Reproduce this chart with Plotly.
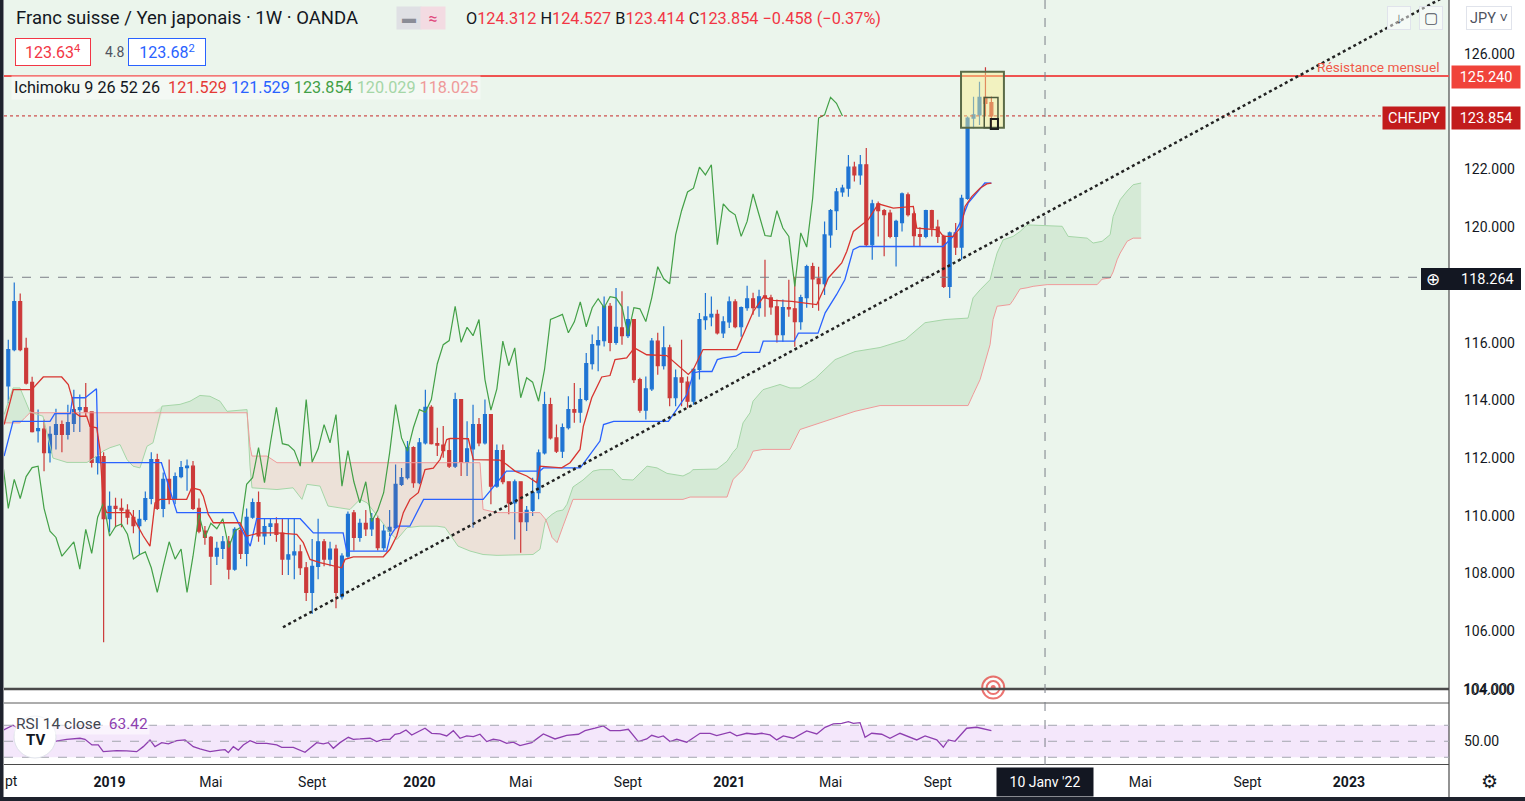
import numpy as np
import pandas as pd
import plotly.graph_objects as go

FONT = "Roboto, 'Open Sans', sans-serif"
INK = "#131722"
BLUE = "#1f74d3"
RED = "#cc3a3a"
TENKAN_C = "#d8342f"
KIJUN_C = "#2962ff"
CHIKOU_C = "#43a047"
SPAN_A_C = "#a5d6a7"
SPAN_B_C = "#ef9a9a"
PANE_BG = "#ebf5ec"

# weekly bars, first bar = week of 10 Sept 2018
START = pd.Timestamp("2018-09-10")

OPEN = [114.50, 115.76, 117.42, 115.80, 114.62, 112.95, 113.00, 112.19, 112.82, 113.16,
        112.82, 113.20, 113.68, 113.75, 113.60, 111.85, 112.05, 109.90, 110.33, 110.26,
        110.20, 109.95, 109.66, 109.88, 110.60, 111.95, 110.26, 111.26, 110.60, 111.36,
        111.67, 111.72, 110.26, 109.47, 109.25, 108.60, 108.87, 109.10, 108.15, 109.50,
        108.70, 109.95, 110.46, 109.30, 109.63, 109.72, 109.40, 108.50, 108.65, 108.75,
        108.20, 107.35, 108.25, 109.10, 108.50, 108.85, 107.20, 108.60, 110.10, 109.25,
        109.74, 109.55, 109.90, 108.90, 109.47, 109.59, 111.09, 111.32, 112.36, 111.15,
        112.53, 113.76, 112.50, 112.45, 112.26, 111.72, 114.03, 111.86, 112.32, 113.16,
        112.53, 113.51, 111.03, 112.26, 111.18, 110.45, 111.18, 109.80, 110.19, 110.80,
        112.18, 113.85, 112.70, 112.24, 113.05, 113.68, 113.59, 114.03, 115.27, 115.92,
        116.07, 117.26, 116.01, 116.51, 116.24, 116.80, 114.72, 113.66, 114.40, 116.05,
        115.20, 115.82, 114.09, 114.78, 114.63, 113.97, 115.07, 116.80, 116.89, 116.98,
        116.34, 116.72, 117.41, 116.55, 117.21, 117.52, 117.21, 117.62, 117.55, 117.24,
        116.28, 117.21, 117.17, 116.73, 117.56, 118.63, 118.21, 118.04, 119.73, 120.57,
        121.22, 121.35, 122.08, 121.81, 122.16, 119.39, 120.81, 120.57, 120.49, 119.68,
        120.16, 121.12, 120.46, 119.74, 119.68, 120.57, 120.00, 119.68, 117.95, 119.80,
        119.31, 121.00, 123.78, 123.89, 124.50, 124.312]
HIGH = [116.10, 118.08, 117.70, 116.17, 114.82, 113.68, 113.34, 113.10, 113.71, 113.30,
        113.85, 114.37, 114.20, 114.60, 113.62, 112.75, 112.20, 110.84, 110.63, 110.60,
        110.40, 110.20, 110.20, 110.84, 112.20, 112.15, 111.50, 111.95, 111.50, 111.90,
        111.95, 111.90, 110.60, 109.65, 109.30, 109.10, 109.30, 109.30, 109.60, 109.70,
        110.25, 110.60, 110.84, 109.90, 109.90, 109.95, 109.90, 109.90, 109.90, 109.00,
        108.40, 109.20, 109.90, 109.20, 109.10, 109.00, 108.70, 110.15, 110.20, 109.90,
        110.20, 110.10, 110.00, 109.70, 110.20, 111.78, 111.66, 112.59, 112.41, 112.70,
        114.37, 113.83, 113.05, 113.11, 112.70, 114.26, 114.05, 113.28, 113.85, 113.39,
        114.03, 113.53, 112.47, 112.47, 111.20, 111.26, 111.20, 110.34, 111.32, 112.30,
        114.30, 114.09, 113.16, 113.20, 114.14, 114.60, 114.43, 115.64, 116.28, 116.57,
        117.60, 117.37, 117.89, 117.78, 117.26, 116.82, 114.78, 114.83, 116.16, 116.34,
        116.57, 115.93, 115.07, 116.10, 114.83, 115.12, 117.03, 117.72, 117.60, 117.14,
        116.91, 117.60, 117.50, 117.25, 117.97, 117.73, 117.83, 118.87, 117.66, 117.49,
        117.49, 118.18, 118.28, 117.66, 118.70, 118.77, 118.63, 120.20, 120.63, 121.36,
        121.47, 122.50, 122.27, 122.50, 122.74, 120.95, 120.89, 120.63, 120.60, 120.26,
        121.20, 121.20, 120.54, 120.00, 120.60, 120.60, 120.26, 119.74, 119.85, 120.14,
        121.12, 123.83, 124.52, 125.04, 125.54, 124.527]
LOW = [113.90, 115.70, 115.70, 114.55, 112.89, 112.54, 111.54, 111.85, 112.30, 112.20,
       112.64, 112.90, 112.90, 113.46, 111.67, 111.43, 105.62, 109.43, 109.60, 109.60,
       109.70, 109.40, 108.65, 109.80, 110.40, 110.20, 109.95, 110.40, 110.40, 111.30,
       110.87, 110.20, 109.40, 109.00, 107.60, 108.30, 108.50, 107.80, 108.10, 108.50,
       108.25, 109.90, 109.10, 109.00, 109.30, 109.10, 107.95, 107.95, 107.80, 107.95,
       107.05, 106.60, 107.80, 108.25, 108.25, 106.80, 107.10, 108.55, 108.80, 109.10,
       109.30, 109.30, 108.80, 108.80, 109.30, 109.55, 111.03, 111.26, 110.97, 111.09,
       112.47, 112.47, 112.07, 112.01, 111.66, 111.66, 111.38, 111.38, 109.59, 112.41,
       112.47, 110.40, 110.97, 111.09, 110.05, 109.18, 108.72, 109.47, 109.99, 110.57,
       112.12, 112.64, 112.18, 112.00, 112.99, 113.22, 113.22, 113.97, 115.07, 115.01,
       115.87, 115.70, 115.93, 115.93, 116.16, 114.60, 113.57, 113.34, 114.32, 114.89,
       115.07, 113.80, 113.80, 113.80, 113.74, 113.85, 114.72, 116.45, 116.57, 116.28,
       116.16, 116.51, 116.50, 116.20, 117.10, 116.97, 116.90, 116.90, 116.97, 116.00,
       116.03, 116.90, 115.86, 116.45, 117.21, 117.20, 117.10, 117.65, 119.29, 119.90,
       121.05, 121.05, 121.58, 121.47, 119.33, 118.87, 119.68, 118.99, 119.62, 118.64,
       119.85, 120.37, 119.33, 119.33, 119.62, 119.68, 119.45, 117.89, 117.55, 119.04,
       118.87, 120.95, 123.43, 123.54, 123.83, 123.414]
CLOSE = [115.76, 117.42, 115.76, 114.60, 112.92, 113.02, 112.19, 112.82, 113.16, 112.82,
         113.23, 113.68, 113.75, 113.60, 111.85, 112.05, 109.90, 110.33, 110.26, 110.20,
         109.95, 109.66, 109.88, 110.60, 111.95, 110.26, 111.26, 110.60, 111.36, 111.67,
         111.72, 110.26, 109.47, 109.25, 108.60, 108.87, 109.10, 108.15, 109.53, 108.70,
         109.95, 110.46, 109.30, 109.63, 109.72, 109.36, 108.50, 108.65, 108.75, 108.20,
         107.35, 108.25, 109.10, 108.50, 108.85, 107.35, 108.60, 110.05, 109.25, 109.74,
         109.55, 109.90, 108.90, 109.47, 109.60, 111.09, 111.32, 112.36, 111.15, 112.53,
         113.76, 112.50, 112.45, 112.26, 111.72, 114.03, 111.86, 112.32, 113.16, 112.53,
         113.51, 111.03, 112.26, 111.18, 110.45, 111.18, 109.80, 110.19, 110.80, 112.18,
         113.85, 112.70, 112.24, 113.06, 113.68, 113.59, 114.03, 115.27, 115.93, 116.07,
         117.26, 116.01, 116.53, 116.24, 116.80, 114.72, 113.66, 114.40, 116.05, 115.20,
         115.82, 114.09, 114.78, 114.63, 113.97, 115.07, 116.80, 116.89, 116.98, 116.34,
         116.72, 117.41, 116.55, 117.21, 117.52, 117.21, 117.59, 117.55, 117.24, 116.28,
         117.21, 117.17, 116.73, 117.56, 118.63, 118.21, 118.04, 119.73, 120.57, 121.22,
         121.35, 122.08, 121.81, 122.16, 119.39, 120.81, 120.57, 120.43, 119.68, 120.20,
         121.15, 120.43, 119.71, 119.68, 120.57, 119.97, 119.68, 117.95, 119.80, 119.31,
         121.00, 123.78, 123.89, 124.50, 124.29, 123.854]

# Ichimoku 9 26 52 26, breakpoints (x in weeks from START)
TENKAN_IDX = [-0.7, 0.84, 3.93, 4.77, 5.87, 8.96, 10.07, 10.64, 11.19, 12.03,
              13.16, 13.71, 14.84, 15.39, 15.94, 16.52, 20.43, 20.98, 22.66, 23.78,
              24.62, 25.46, 29.94, 30.78, 32.17, 32.73, 33.57, 34.41, 38.89, 40.01,
              42.25, 45.05, 48.41, 49.51, 50.64, 52.32, 54.55, 55.96, 56.51, 57.91,
              62.94, 64.06, 65.19, 66.3, 67.42, 68.82, 69.94, 71.33, 72.46, 73.58,
              74.14, 77.21, 78.05, 82.53, 83.65, 85.04, 87.01, 88.69, 89.24, 92.88,
              94.28, 95.96, 96.51, 97.92, 99.6, 100.99, 101.83, 103.79, 105.08, 107.15,
              110.51, 112.19, 114.13, 114.97, 116.6, 122.26, 123.94, 125.04, 126.72, 128.4,
              131.49, 135.69, 137.08, 137.63, 139.88, 140.72, 141.83, 142.95, 144.34, 146.02,
              148.54, 151.9, 152.47, 156.09, 156.93, 158.56, 160.02, 160.57, 161.7, 163.09,
              164.22, 165.0]
TENKAN_VAL = [113.16, 114.37, 114.37, 114.55, 114.81, 114.81, 114.55, 114.14, 113.57, 113.45,
              113.45, 113.10, 113.05, 112.30, 110.45, 110.11, 110.11, 109.93, 109.30, 108.95,
              110.45, 110.57, 110.57, 110.97, 110.90, 110.68, 110.05, 109.76, 109.76, 109.30,
              109.41, 109.41, 109.36, 109.07, 108.49, 108.38, 108.26, 108.20, 108.49, 108.58,
              108.58, 108.84, 109.30, 110.11, 110.57, 110.80, 111.60, 111.65, 111.95, 112.64,
              112.68, 112.67, 111.95, 111.93, 111.78, 111.55, 111.38, 111.15, 111.72, 111.66,
              111.84, 112.30, 113.10, 114.09, 114.81, 114.86, 115.41, 115.47, 115.82, 115.58,
              115.55, 115.24, 114.90, 115.07, 115.76, 115.76, 116.56, 117.08, 117.58, 117.46,
              117.43, 117.32, 117.95, 118.24, 118.76, 119.16, 119.85, 120.03, 120.26, 120.81,
              120.66, 120.72, 119.97, 119.91, 119.68, 119.68, 120.03, 120.72, 121.06, 121.35,
              121.50, 121.529]

KIJUN_IDX = [-0.7, 0.8, 7.0, 7.8, 10.4, 10.8, 12.9, 14.8, 15.1, 25.7,
             28.3, 37.8, 38.9, 40.6, 41.7, 49.0, 51.2, 56.2, 56.8, 63.5,
             64.1, 65.2, 67.4, 69.7, 79.7, 83.6, 89.2, 89.8, 96.0, 99.3,
             99.9, 101.6, 110.8, 112.2, 113.9, 115.0, 116.1, 118.1, 119.0, 120.0,
             122.1, 123.2, 126.1, 126.7, 131.9, 132.6, 135.9, 137.1, 139.0, 140.4,
             141.8, 142.9, 156.9, 158.6, 160.0, 161.1, 163.1, 163.9, 165.0]
KIJUN_VAL = [112.07, 113.27, 113.27, 113.54, 113.54, 114.09, 114.09, 114.40, 111.84, 111.84,
             110.11, 110.11, 109.63, 108.95, 109.90, 109.90, 109.41, 109.41, 108.78, 108.78,
             109.30, 109.64, 109.64, 110.57, 110.57, 111.55, 111.55, 111.66, 111.66, 112.59,
             113.16, 113.27, 113.27, 113.68, 114.20, 114.95, 115.00, 115.00, 115.41, 115.47,
             115.53, 115.66, 115.66, 116.05, 116.05, 116.33, 116.33, 117.03, 117.66, 118.18,
             119.22, 119.33, 119.33, 119.68, 120.26, 120.83, 121.35, 121.53, 121.529]

CLOUD_IDX = [-0.72, 0.79, 1.96, 2.80, 3.64, 5.82, 7.50, 9.85, 13.21, 14.89,
             15.89, 17.07, 18.75, 19.92, 20.93, 22.10, 23.28, 24.29, 25.80, 28.82,
             30.50, 32.17, 33.85, 35.53, 36.71, 40.07, 40.57, 40.90, 43.42, 45.10,
             47.79, 49.29, 50.13, 52.32, 53.66, 57.35, 59.03, 60.21, 62.39, 64.06,
             65.24, 66.92, 69.10, 71.96, 73.30, 75.48, 77.49, 79.17, 79.68, 82.03,
             88.07, 89.24, 90.08, 90.42, 91.26, 92.10, 93.10, 93.77, 94.78, 96.46,
             98.14, 99.31, 101.49, 103.00, 104.85, 107.20, 108.88, 110.56, 113.24, 114.42,
             114.92, 118.95, 120.63, 121.64, 122.31, 123.32, 124.49, 124.99, 126.67, 129.52,
             131.20, 132.88, 135.40, 138.76, 142.11, 146.31, 150.51, 153.86, 157.22, 161.08,
             161.92, 163.10, 164.78, 165.28, 165.95, 166.96, 168.13, 168.64, 169.81, 170.99,
             172.00, 174.35, 176.87, 177.88, 181.07, 182.07, 182.75, 183.58, 184.93, 185.43,
             186.10, 186.61, 187.78, 188.79, 190.13]
SENKOU_A = [113.50, 114.43, 114.43, 114.00, 113.60, 113.45, 112.00, 111.85, 111.85, 112.07,
            112.24, 112.36, 112.47, 111.95, 111.72, 111.66, 112.41, 112.53, 113.80, 113.86,
            113.97, 114.17, 114.14, 113.97, 113.62, 113.68, 111.72, 110.97, 110.93, 110.91,
            110.97, 110.57, 111.09, 111.03, 110.34, 110.22, 110.57, 110.45, 109.88, 109.41,
            109.18, 109.59, 109.64, 109.64, 109.60, 108.95, 108.78, 108.70, 108.66, 108.63,
            108.66, 108.84, 109.76, 109.90, 110.05, 110.16, 110.20, 110.40, 111.00, 111.24,
            111.55, 111.60, 111.60, 111.26, 111.24, 111.72, 111.66, 111.47, 111.38, 111.50,
            111.60, 111.62, 111.89, 112.20, 112.36, 113.22, 113.57, 113.97, 114.37, 114.55,
            114.43, 114.43, 114.75, 115.41, 115.69, 115.83, 116.10, 116.69, 116.80, 116.85,
            117.55, 117.83, 118.18, 118.60, 119.10, 119.56, 119.64, 119.68, 119.85, 120.08,
            120.07, 120.06, 120.03, 119.68, 119.62, 119.45, 119.48, 119.51, 119.74, 120.37,
            120.70, 120.95, 121.25, 121.47, 121.53]
SENKOU_B = [113.22, 113.22, 113.22, 113.40, 113.57, 113.57, 113.57, 113.57, 113.57, 113.57,
            113.57, 113.57, 113.57, 113.57, 113.57, 113.57, 113.57, 113.57, 113.57, 113.57,
            113.57, 113.57, 113.57, 113.57, 113.57, 113.57, 112.40, 112.07, 112.07, 111.84,
            111.84, 111.84, 111.84, 111.84, 111.84, 111.84, 111.84, 111.84, 111.84, 111.84,
            111.84, 111.84, 111.84, 111.84, 111.84, 111.84, 111.84, 111.84, 110.22, 110.11,
            110.11, 110.11, 109.90, 109.76, 109.25, 109.07, 109.64, 110.00, 110.57, 110.57,
            110.57, 110.57, 110.57, 110.57, 110.57, 110.57, 110.57, 110.57, 110.57, 110.65,
            110.65, 110.65, 110.65, 111.26, 111.40, 111.60, 112.00, 112.24, 112.30, 112.30,
            112.30, 112.99, 113.16, 113.40, 113.62, 113.82, 113.82, 113.82, 113.82, 113.82,
            114.20, 114.72, 115.93, 116.80, 117.26, 117.29, 117.32, 117.47, 117.86, 117.90,
            117.95, 118.01, 118.01, 118.01, 118.01, 118.01, 118.01, 118.20, 118.24, 118.45,
            118.87, 119.10, 119.51, 119.62, 119.62]

RSI_IDX = [-0.8, 0.8, 2.8, 5.3, 7.55, 9.8, 12.03, 12.87, 14.04, 15.1,
           15.94, 18.19, 19.87, 21.55, 22.66, 23.78, 24.62, 25.75, 26.86, 28.27,
           29.66, 31.05, 32.17, 33.85, 35.53, 36.37, 36.93, 37.77, 38.6, 39.44,
           40.57, 41.69, 43.37, 45.05, 45.89, 47.84, 49.8, 51.76, 52.87, 53.71,
           54.55, 55.67, 57.07, 57.91, 59.03, 60.71, 61.83, 62.94, 64.06, 64.9,
           65.74, 66.75, 67.71, 68.82, 69.94, 71.06, 72.46, 73.58, 74.69, 75.81,
           76.94, 78.05, 79.17, 80.3, 81.4, 82.53, 83.65, 84.76, 85.88, 87.85,
           89.8, 91.76, 93.72, 95.68, 96.8, 98.47, 99.87, 100.99, 102.67, 104.06,
           105.74, 107.15, 107.99, 109.1, 109.94, 111.06, 112.19, 113.86, 116.1, 117.78,
           118.9, 121.13, 122.26, 123.94, 125.33, 126.45, 127.85, 128.97, 130.08, 131.76,
           134.0, 135.69, 137.08, 138.48, 139.88, 141.0, 141.83, 142.95, 143.79, 144.91,
           146.59, 147.98, 149.66, 152.47, 153.87, 155.83, 156.93, 157.77, 158.89, 160.85,
           162.53, 165.0]
RSI_VAL = [64, 70, 60, 52, 49.6, 52.5, 53.8, 52.5, 45.4, 45.4,
           37.0, 38.3, 37.9, 37.0, 43.3, 51.7, 43.3, 48.3, 46.7, 50.8,
           51.7, 43.3, 40.4, 37.0, 39.0, 39.5, 35.8, 43.3, 39.0, 45.4,
           50.8, 47.5, 47.5, 45.4, 42.5, 42.5, 36.3, 48.3, 46.7, 48.3,
           41.3, 48.3, 55.0, 52.5, 52.9, 53.8, 49.6, 52.5, 52.5, 58.8,
           60.0, 64.2, 57.9, 62.0, 66.3, 60.0, 59.2, 56.7, 63.3, 53.8,
           56.7, 55.8, 58.8, 49.6, 52.5, 51.0, 47.5, 49.0, 44.6, 48.3,
           59.2, 52.9, 57.5, 58.8, 63.3, 66.3, 69.2, 63.3, 63.3, 65.0,
           49.6, 52.9, 57.5, 55.0, 56.7, 49.6, 52.5, 48.8, 60.0, 60.0,
           57.0, 61.3, 56.7, 60.0, 58.8, 60.0, 57.9, 51.7, 56.7, 53.8,
           62.9, 59.2, 67.5, 71.7, 72.5, 74.6, 72.5, 73.3, 55.0, 60.0,
           58.8, 53.8, 60.0, 51.7, 56.7, 51.7, 42.5, 51.7, 50.0, 66.3,
           67.5, 63.42]

PRICE_TICKS = [104, 106, 108, 110, 112, 114, 116, 120, 122, 126]
# first weekly bar of each labelled month
X_TICKS = ["2019-01-07", "2019-05-06", "2019-09-02", "2020-01-06", "2020-05-04",
           "2020-09-07", "2021-01-04", "2021-05-03", "2021-09-06", "2022-05-02",
           "2022-09-05", "2023-01-02"]
X_TICK_TEXT = ["<b>2019</b>", "Mai", "Sept", "<b>2020</b>", "Mai", "Sept",
               "<b>2021</b>", "Mai", "Sept", "Mai", "Sept", "<b>2023</b>"]

RESISTANCE = 125.240
LAST = 123.854
CROSS_PRICE = 118.264
CROSS_WEEK = 174.0
CHIKOU_SHIFT = 25

for a, b in [(OPEN, CLOSE), (HIGH, LOW), (TENKAN_IDX, TENKAN_VAL), (KIJUN_IDX, KIJUN_VAL),
             (CLOUD_IDX, SENKOU_A), (CLOUD_IDX, SENKOU_B), (RSI_IDX, RSI_VAL)]:
    assert len(a) == len(b), (len(a), len(b))


def wk(idx):
    return START + pd.to_timedelta(np.asarray(idx, dtype=float) * 7, unit="D")


# pixel helpers for the 1525x801 frame (plot area 1445x765 starting at x=4)
def px(x):
    return (x - 4) / 1445.0


def py(y):
    return (765 - y) / 765.0


bars = np.arange(len(CLOSE))
dates = wk(bars)
span_a = np.array(SENKOU_A)
span_b = np.array(SENKOU_B)
cloud_x = wk(CLOUD_IDX)

fig = go.Figure()

# cloud fills (green where A above B, red where below)
fig.add_trace(go.Scatter(x=cloud_x, y=span_b, mode="lines", line=dict(width=0), hoverinfo="skip"))
fig.add_trace(go.Scatter(x=cloud_x, y=np.maximum(span_a, span_b), mode="lines", line=dict(width=0),
                         fill="tonexty", fillcolor="rgba(67,160,71,0.13)", hoverinfo="skip"))
fig.add_trace(go.Scatter(x=cloud_x, y=span_b, mode="lines", line=dict(width=0), hoverinfo="skip"))
fig.add_trace(go.Scatter(x=cloud_x, y=np.minimum(span_a, span_b), mode="lines", line=dict(width=0),
                         fill="tonexty", fillcolor="rgba(244,67,54,0.11)", hoverinfo="skip"))
fig.add_trace(go.Scatter(x=cloud_x, y=span_a, mode="lines", line=dict(color=SPAN_A_C, width=1)))
fig.add_trace(go.Scatter(x=cloud_x, y=span_b, mode="lines", line=dict(color=SPAN_B_C, width=1)))

fig.add_trace(go.Candlestick(
    x=dates, open=OPEN, high=HIGH, low=LOW, close=CLOSE,
    increasing=dict(line=dict(color=BLUE, width=1.2), fillcolor=BLUE),
    decreasing=dict(line=dict(color=RED, width=1.2), fillcolor=RED),
    whiskerwidth=0, hoverinfo="skip",
))

fig.add_trace(go.Scatter(x=wk(bars[CHIKOU_SHIFT - 1:] - CHIKOU_SHIFT), y=CLOSE[CHIKOU_SHIFT - 1:],
                         mode="lines", line=dict(color=CHIKOU_C, width=1.2)))
fig.add_trace(go.Scatter(x=wk(KIJUN_IDX), y=KIJUN_VAL, mode="lines", line=dict(color=KIJUN_C, width=1.3)))
fig.add_trace(go.Scatter(x=wk(TENKAN_IDX), y=TENKAN_VAL, mode="lines", line=dict(color=TENKAN_C, width=1.3)))

# RSI pane
fig.add_trace(go.Scatter(x=wk(RSI_IDX), y=RSI_VAL, yaxis="y2", mode="lines",
                         line=dict(color="#8e3fb0", width=1.3)))

# event marker at the bottom of the price pane
fig.add_trace(go.Scatter(
    x=wk([165.3, 165.3, 165.3]), y=[104.05, 104.05, 104.05], mode="markers", cliponaxis=False,
    marker=dict(size=[22, 13, 5], color=["white", "white", "#e53935"],
                line=dict(color="#e53935", width=[2, 2, 0])),
    hoverinfo="skip",
))

dark = "#1e222d"
shapes = [
    dict(type="rect", xref="paper", yref="paper", x0=0, x1=1, y0=py(689), y1=1,
         fillcolor=PANE_BG, line_width=0, layer="below"),
    dict(type="rect", xref="paper", yref="y2", x0=0, x1=1, y0=30, y1=70,
         fillcolor="#f4e7fb", line_width=0, layer="below"),
    dict(type="line", xref="paper", yref="paper", x0=0, x1=1, y0=py(689), y1=py(689),
         line=dict(color="#4a4a4a", width=2.5)),
    dict(type="line", xref="paper", yref="paper", x0=0, x1=1, y0=py(703), y1=py(703),
         line=dict(color="#5a5a5a", width=1)),
    dict(type="line", xref="paper", yref="paper", x0=0, x1=1, y0=py(764.5), y1=py(764.5),
         line=dict(color="#4a4a4a", width=1.2)),
    dict(type="line", xref="paper", yref="paper", x0=1, x1=1, y0=py(797), y1=1,
         line=dict(color="#4a4a4a", width=1.2)),
    dict(type="rect", xref="paper", yref="paper", x0=px(0), x1=px(1525), y0=py(801), y1=py(797),
         fillcolor=dark, line_width=0),
    dict(type="rect", xref="paper", yref="paper", x0=px(0), x1=px(3.5), y0=py(801), y1=py(0),
         fillcolor=dark, line_width=0),
    # RSI levels
    dict(type="line", xref="paper", yref="y2", x0=0, x1=1, y0=70, y1=70,
         line=dict(color="#a3a6af", width=1, dash="dash")),
    dict(type="line", xref="paper", yref="y2", x0=0, x1=1, y0=50, y1=50,
         line=dict(color="#a3a6af", width=1, dash="dash")),
    dict(type="line", xref="paper", yref="y2", x0=0, x1=1, y0=30, y1=30,
         line=dict(color="#a3a6af", width=1, dash="dash")),
    # drawings
    dict(type="line", xref="paper", yref="y", x0=0, x1=1, y0=RESISTANCE, y1=RESISTANCE,
         line=dict(color="#ef5350", width=2)),
    dict(type="line", xref="paper", yref="y", x0=0, x1=px(1383), y0=LAST, y1=LAST,
         line=dict(color="#c62828", width=1, dash="dot")),
    dict(type="line", xref="paper", yref="y", x0=0, x1=1, y0=CROSS_PRICE, y1=CROSS_PRICE,
         line=dict(color="#7b7e87", width=1, dash="dash")),
    dict(type="line", xref="x", yref="paper", x0=wk(CROSS_WEEK), x1=wk(CROSS_WEEK), y0=py(765), y1=1,
         line=dict(color="#7b7e87", width=1, dash="dash")),
    dict(type="line", xref="x", yref="y", x0=wk(46.1), y0=106.14, x1=wk(240.3), y1=127.9,
         line=dict(color="#222222", width=2.5, dash="dot")),
    dict(type="rect", xref="x", yref="y", x0=wk(159.9), x1=wk(167.1), y0=123.44, y1=125.38,
         fillcolor="rgba(250,240,140,0.45)", line=dict(color="#5b6b47", width=2)),
    dict(type="rect", xref="x", yref="y", x0=wk(163.8), x1=wk(166.1), y0=123.44, y1=124.49,
         line=dict(color="#4d5a3c", width=1.5)),
    dict(type="rect", xref="x", yref="y", x0=wk(164.9), x1=wk(166.1), y0=123.40, y1=123.75,
         line=dict(color="#1d1d1d", width=2)),
    # crosshair price tag
    dict(type="rect", xref="paper", yref="paper", x0=px(1421), x1=px(1521), y0=py(290), y1=py(268),
         fillcolor=INK, line_width=0),
    # TV logo
    dict(type="circle", xref="paper", yref="paper", x0=px(14), x1=px(56), y0=py(758), y1=py(716),
         fillcolor="white", line=dict(color="#e0e3eb", width=1)),
]

red_txt = "#f23645"


def sp(color, text):
    return f"<span style='color:{color}'>{text}</span>"


ann = [
    dict(x=px(14), y=py(18), text="Franc suisse / Yen japonais · 1W · OANDA",
         font=dict(size=18.5, color=INK)),
    dict(x=px(396), y=py(18), text="▬", font=dict(size=14, color="#8a8d96"),
         bgcolor="#dfe0e4", width=22, height=20),
    dict(x=px(420), y=py(18), text="≈", font=dict(size=16, color="#e0457b"),
         bgcolor="#f3dbe2", width=22, height=20),
    dict(x=px(464), y=py(18),
         text="O" + sp(red_txt, "124.312") + " H" + sp(red_txt, "124.527") + " B" + sp(red_txt, "123.414")
              + " C" + sp(red_txt, "123.854") + " " + sp(red_txt, "−0.458 (−0.37%)"),
         font=dict(size=16.3, color=INK)),
    dict(x=px(15), y=py(52), text="123.63<sup>4</sup>", font=dict(size=16, color=red_txt),
         bordercolor=red_txt, borderwidth=1, borderpad=3, bgcolor="white", width=68, height=20),
    dict(x=px(103), y=py(52), text="4.8", font=dict(size=14, color="#50535e")),
    dict(x=px(128), y=py(52), text="123.68<sup>2</sup>", font=dict(size=16, color="#2962ff"),
         bordercolor="#2962ff", borderwidth=1, borderpad=3, bgcolor="white", width=70, height=20),
    dict(x=px(11), y=py(87),
         text="Ichimoku 9 26 52 26  " + sp("#e53935", "121.529") + " " + sp("#2962ff", "121.529") + " "
              + sp("#43a047", "123.854") + " " + sp(SPAN_A_C, "120.029") + " " + sp(SPAN_B_C, "118.025"),
         font=dict(size=16.2, color=INK), bgcolor="rgba(255,255,255,0.45)", borderpad=2),
    dict(x=px(1441), y=py(67), xanchor="right", text="Résistance mensuel",
         font=dict(size=13.7, color="#f05a4a")),
    dict(x=px(1486), y=py(77), xanchor="center", text="125.240", font=dict(size=14.5, color="white"),
         bgcolor="#f0433a", width=66, height=20),
    dict(x=px(1414), y=py(118), xanchor="center", text="CHFJPY", font=dict(size=14.5, color="white"),
         bgcolor="#c21c1c", width=60, height=20),
    dict(x=px(1486), y=py(118), xanchor="center", text="123.854", font=dict(size=14.5, color="white"),
         bgcolor="#c21c1c", width=66, height=20),
    dict(x=px(1487), y=py(279), xanchor="center", text="118.264", font=dict(size=14.5, color="white")),
    dict(x=px(1433), y=py(279), xanchor="center", text="⊕", font=dict(size=17, color="white")),
    dict(x=px(1488), y=py(690), xanchor="center", text="104.000", font=dict(size=14, color=INK)),
    dict(x=px(14), y=py(724), text="RSI 14 close  " + sp("#8e3fb0", "63.42"),
         font=dict(size=15.5, color="#434651"), bgcolor="rgba(255,255,255,0.55)"),
    dict(x=px(35), y=py(740), xanchor="center", text="<b>TV</b>", font=dict(size=15, color=INK)),
    dict(x=px(3), y=py(781), text="pt", font=dict(size=14, color=INK)),
    dict(x=wk(CROSS_WEEK), xref="x", y=py(782), xanchor="center", text="10 Janv '22",
         font=dict(size=14, color="white"), bgcolor=INK, width=94, height=26),
    dict(x=px(1489), y=py(781), xanchor="center", text="⚙", font=dict(size=19, color=INK)),
    dict(x=px(1399), y=py(18), xanchor="center", text="↓", font=dict(size=15, color="#50535e"),
         bordercolor="#e0e3eb", borderwidth=1, bgcolor="rgba(255,255,255,0.5)", width=20, height=20),
    dict(x=px(1431), y=py(18), xanchor="center", text="▢", font=dict(size=15, color="#50535e"),
         bordercolor="#e0e3eb", borderwidth=1, bgcolor="rgba(255,255,255,0.5)", width=20, height=20),
    dict(x=px(1489), y=py(18), xanchor="center", text="JPY ˅", font=dict(size=14.5, color="#50535e"),
         bordercolor="#e0e3eb", borderwidth=1, bgcolor="white", width=42, height=20),
]
for a in ann:
    a.setdefault("xref", "paper")
    a.setdefault("yref", "paper")
    a.setdefault("xanchor", "left")
    a.setdefault("yanchor", "middle")
    a.setdefault("showarrow", False)

fig.update_layout(
    width=1525, height=801,
    margin=dict(l=4, r=76, t=0, b=36),
    paper_bgcolor="white", plot_bgcolor="white",
    font=dict(family=FONT, color=INK),
    showlegend=False,
    xaxis=dict(type="date", range=[wk(-0.72), wk(241.8)], anchor="y2",
               rangeslider=dict(visible=False), showgrid=False, zeroline=False, showline=False,
               tickvals=X_TICKS, ticktext=X_TICK_TEXT, ticks="", ticklabelstandoff=8,
               tickfont=dict(size=14, color=INK)),
    yaxis=dict(domain=[py(689), 1], range=[104.0, 127.87], side="right", showgrid=False,
               zeroline=False, showline=False, tickvals=PRICE_TICKS,
               ticktext=[f"{v:.3f}" for v in PRICE_TICKS], ticks="", ticklabelstandoff=14,
               tickfont=dict(size=14, color=INK)),
    yaxis2=dict(domain=[py(764), py(690)], range=[21.6, 114.1], side="right", showgrid=False,
                zeroline=False, showline=False, tickvals=[50], ticktext=["50.00"], ticks="",
                ticklabelstandoff=14, tickfont=dict(size=14, color=INK)),
    shapes=shapes,
    annotations=ann,
)

# the page is photographed at exactly the figure size, so drop the default body margin
fig.write_html("out.html", config={"displayModeBar": False},
               post_script="document.body.style.margin='0';")
